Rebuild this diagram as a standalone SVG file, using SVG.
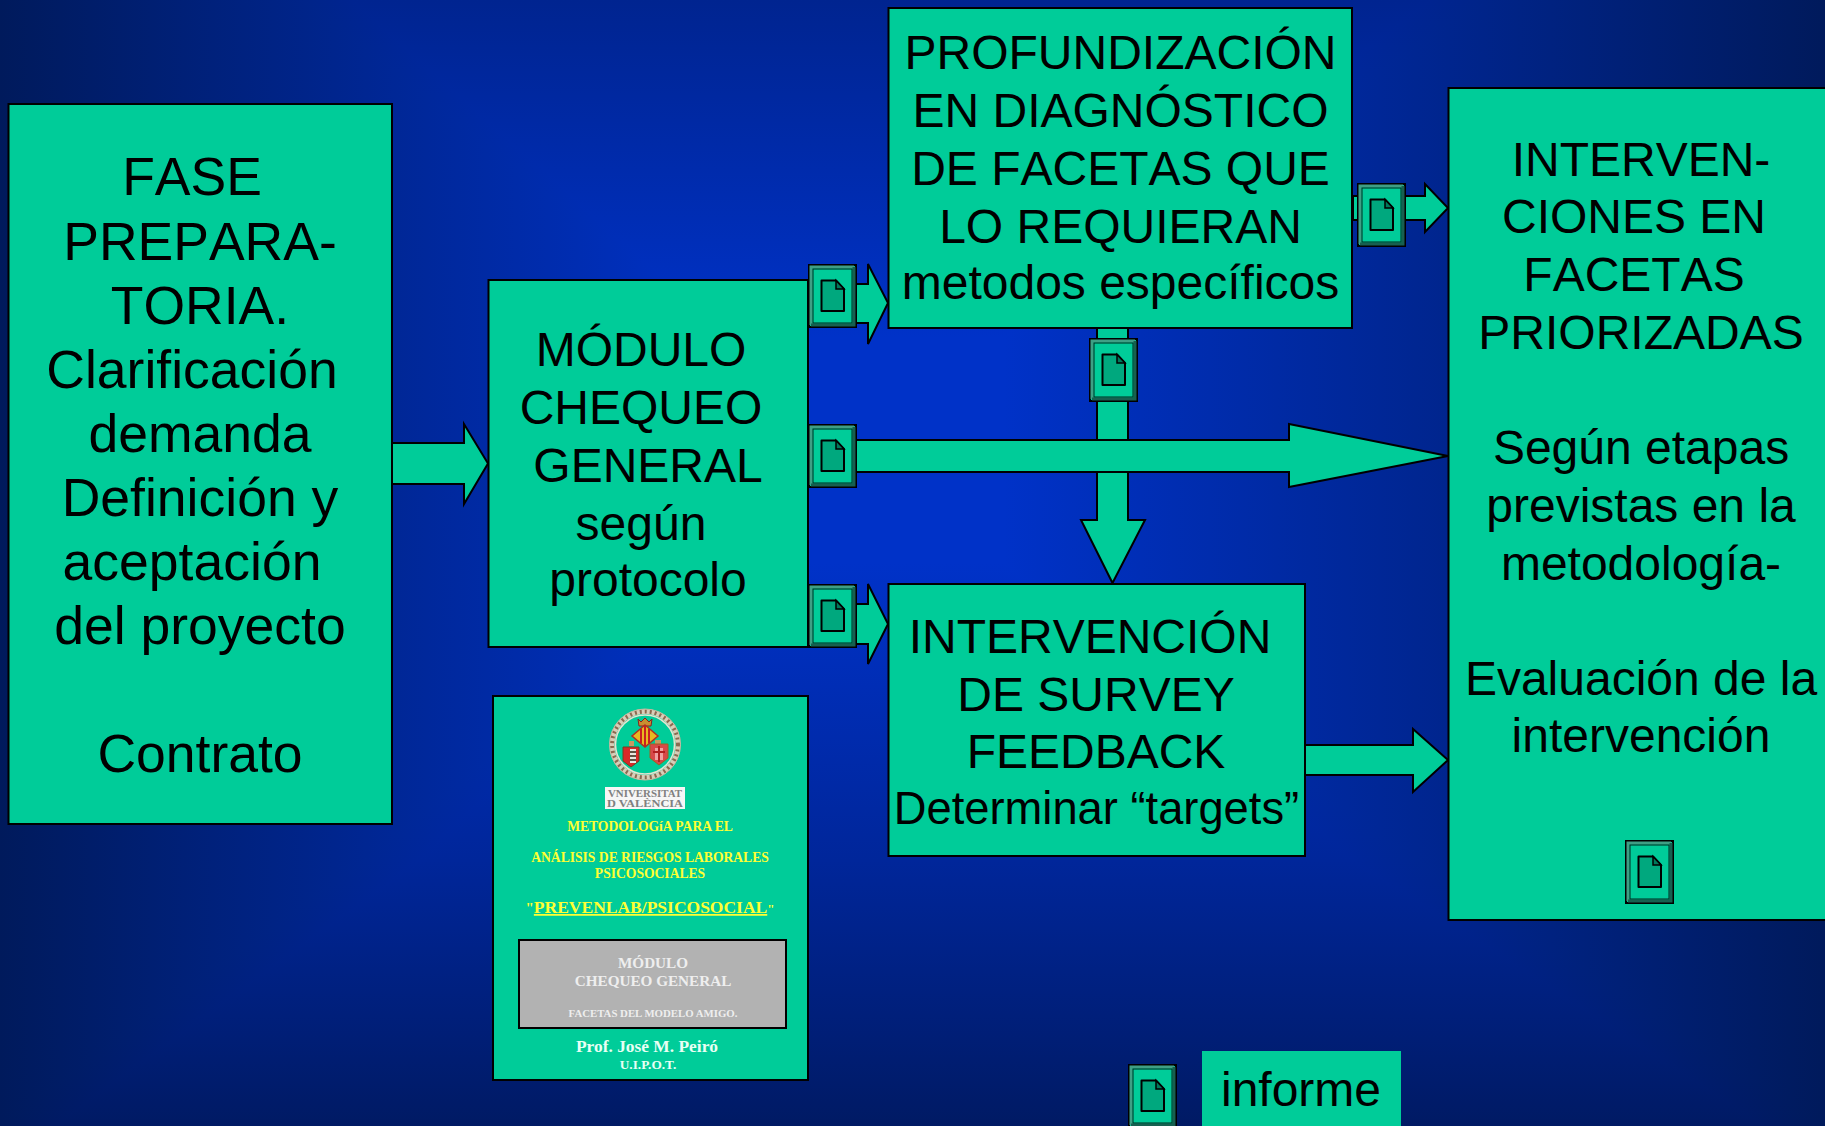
<svg xmlns="http://www.w3.org/2000/svg" xmlns:xlink="http://www.w3.org/1999/xlink" width="1825" height="1126" viewBox="0 0 1825 1126">
<defs>
<linearGradient id="bgx" gradientUnits="userSpaceOnUse" x1="0" y1="0" x2="1825" y2="0">
<stop offset="0" stop-color="#001a5c"/><stop offset="0.4" stop-color="#0032c8"/><stop offset="0.55" stop-color="#0032c8"/><stop offset="1" stop-color="#001a5c"/>
</linearGradient>
<linearGradient id="bgy" gradientUnits="userSpaceOnUse" x1="0" y1="0" x2="0" y2="1126">
<stop offset="0" stop-color="#002490"/><stop offset="0.3" stop-color="#0032c8"/><stop offset="0.5" stop-color="#0032c8"/><stop offset="0.764" stop-color="#00269a"/><stop offset="1" stop-color="#001a64"/>
</linearGradient>
<g id="ic">
<rect x="1" y="1" width="47" height="62" fill="#00cc99" stroke="#000" stroke-width="2"/>
<path d="M3 61V3H46" fill="none" stroke="#3f9f85" stroke-width="3"/>
<path d="M46 3V61H3" fill="none" stroke="#176050" stroke-width="3"/>
<rect x="5" y="5" width="39" height="54" fill="#00cc99" stroke="#00281e" stroke-width="1"/>
<path d="M13.500 16.500H28L36 25V47H13.500Z" fill="#00a87e" stroke="#000" stroke-width="2" stroke-linejoin="round"/>
<path d="M28 16.500V25H36Z" fill="#007a5c" stroke="#000" stroke-width="1.500"/>
</g>
</defs>
<style>
.box{fill:#00cc99;stroke:#000;stroke-width:2}
.ar{fill:#00cc99;stroke:#000;stroke-width:2;stroke-linejoin:miter}
.t{font-family:"Liberation Sans",Arial,sans-serif;font-size:48px;fill:#000;text-anchor:middle;font-kerning:none}
.big{font-size:53.500px}
.s{font-family:"Liberation Serif","Times New Roman",serif;font-weight:bold;text-anchor:middle}
.y{fill:#ffff33;font-size:13.600px}
.w{fill:#eeeeee}
.u{font-family:"Liberation Serif","Times New Roman",serif;font-size:10.500px;fill:#808080;text-anchor:middle;font-weight:bold}
</style>
<g id="background" style="isolation:isolate">
<rect width="1825" height="1126" fill="url(#bgx)"/>
<rect width="1825" height="1126" fill="url(#bgy)" style="mix-blend-mode:darken"/>
</g>
<g id="connectors">
<path class="ar" d="M392 443H464V424L488 463.500L464 504V484H392Z"/>
<path class="ar" d="M808 284H868V264L888 303L868 344V323H808Z"/>
<path class="ar" d="M1097 328H1128V520H1145L1112.500 583L1081 520H1097Z"/>
<path class="ar" d="M808 440H1289V424L1448 456L1289 487V472H808Z"/>
<path class="ar" d="M808 604H868V584L888 624L868 664V644H808Z"/>
<path class="ar" d="M1353 196H1425V184L1448 208L1425 232V220H1353Z"/>
<path class="ar" d="M1305 745H1413V729L1448 760L1413 792V775H1305Z"/>
</g>
<g id="node-fase">
<rect class="box" x="8.500" y="104" width="383.500" height="720"/>
<text class="t big" x="192" y="195">FASE</text>
<text class="t big" x="200" y="260">PREPARA-</text>
<text class="t big" x="200" y="324">TORIA.</text>
<text class="t big" x="192" y="388">Clarificación</text>
<text class="t big" x="200" y="452">demanda</text>
<text class="t big" x="200" y="516">Definición y</text>
<text class="t big" x="192" y="580">aceptación</text>
<text class="t big" x="200" y="644">del proyecto</text>
<text class="t big" x="200" y="772">Contrato</text>
</g>
<g id="node-modulo">
<rect class="box" x="488.500" y="280" width="319.500" height="367"/>
<text class="t" x="641" y="365.500">MÓDULO</text>
<text class="t" x="641" y="423.500">CHEQUEO</text>
<text class="t" x="648" y="481.500">GENERAL</text>
<text class="t" x="641" y="539.500">según</text>
<text class="t" x="648" y="595.500">protocolo</text>
</g>
<g id="node-profundizacion">
<rect class="box" x="888.500" y="8" width="463.500" height="320"/>
<text class="t" x="1120.500" y="69">PROFUNDIZACIÓN</text>
<text class="t" x="1120.500" y="127">EN DIAGNÓSTICO</text>
<text class="t" x="1120.500" y="185">DE FACETAS QUE</text>
<text class="t" x="1120.500" y="243">LO REQUIERAN</text>
<text class="t" x="1120.500" y="299">metodos específicos</text>
</g>
<g id="node-survey">
<rect class="box" x="888.500" y="584" width="416.500" height="272"/>
<text class="t" x="1090" y="652.500">INTERVENCIÓN</text>
<text class="t" x="1096" y="710.500">DE SURVEY</text>
<text class="t" x="1096" y="768">FEEDBACK</text>
<text class="t" x="1096.500" y="824" style="font-size:45.300px">Determinar “targets”</text>
</g>
<g id="node-intervenciones">
<rect class="box" x="1448.500" y="88" width="380" height="832"/>
<text class="t" x="1641" y="176">INTERVEN-</text>
<text class="t" x="1634" y="233">CIONES EN</text>
<text class="t" x="1634" y="291">FACETAS</text>
<text class="t" x="1641" y="349">PRIORIZADAS</text>
<text class="t" x="1641" y="464">Según etapas</text>
<text class="t" x="1641" y="522">previstas en la</text>
<text class="t" x="1641" y="580">metodología-</text>
<text class="t" x="1641" y="695">Evaluación de la</text>
<text class="t" x="1641" y="752">intervención</text>
</g>
<g id="node-portada">
<rect x="493" y="696" width="315" height="384" fill="#00cc99" stroke="#000" stroke-width="2"/>
<circle cx="645" cy="744.500" r="33" fill="none" stroke="#d8cdb8" stroke-width="5"/>
<circle cx="645" cy="744.500" r="33" fill="none" stroke="#8a6a50" stroke-width="4" stroke-dasharray="2 3"/>
<circle cx="645" cy="744.500" r="35.500" fill="none" stroke="#c8b8a0" stroke-width="1"/>
<circle cx="645" cy="744.500" r="29.500" fill="none" stroke="#e8e2d0" stroke-width="1.500"/>
<path d="M638 719L641 722L645 718L649 722L652 719L651 726H639Z" fill="#c89030" stroke="#8a2020" stroke-width="1"/>
<path d="M645 725L658 736L645 747L632 736Z" fill="#e8b820" stroke="#b03020" stroke-width="1.500"/>
<path d="M641 729V743M645 726V746M649 729V743" stroke="#c82020" stroke-width="2"/>
<path d="M634 741H629V746H634ZM661 740H655V745H661Z" fill="#c89860"/>
<path d="M623 747H639V761L631 767L623 761Z" fill="#d82828" stroke="#704020"/>
<path d="M630 749H636V763H630Z" fill="#e8e8e0"/>
<path d="M630 752H636M630 756H636M630 760H636" stroke="#302010" stroke-width="1.500"/>
<path d="M650 744H668V758L659 765L650 758Z" fill="#d84848" stroke="#a06020"/>
<path d="M655 748H663V760H655Z" fill="#f0a0a0"/>
<path d="M659 746V762M653 752H665" stroke="#b02020" stroke-width="2"/>
<rect x="605" y="787" width="80" height="22" fill="#f6f6f6"/>
<text class="u" x="645" y="797" textLength="74" lengthAdjust="spacingAndGlyphs">VNIVERSITAT</text>
<text class="u" x="645" y="807" textLength="76" lengthAdjust="spacingAndGlyphs">D VALÈNCIA</text>
<text class="s y" x="650" y="831">METODOLOGíA PARA EL</text>
<text class="s y" x="650" y="862">ANÁLISIS DE RIESGOS LABORALES</text>
<text class="s y" x="650" y="878">PSICOSOCIALES</text>
<text class="s" x="650" y="913" font-size="17.500" fill="#ffff33"><tspan font-size="15">"</tspan><tspan text-decoration="underline">PREVENLAB/PSICOSOCIAL</tspan><tspan font-size="13">"</tspan></text>
<rect x="519" y="940" width="267" height="88" fill="#b2b2b2" stroke="#000" stroke-width="2"/>
<text class="s w" x="653" y="968" font-size="15.200">MÓDULO</text>
<text class="s w" x="653" y="986" font-size="15.200">CHEQUEO GENERAL</text>
<text class="s w" x="653" y="1017" font-size="10.800">FACETAS DEL MODELO AMIGO.</text>
<text class="s" x="647" y="1052" font-size="17.400" fill="#e8fff4">Prof. José M. Peiró</text>
<text class="s" x="648" y="1069" font-size="13.300" fill="#e8fff4">U.I.P.O.T.</text>
</g>
<g id="icon-1"><use xlink:href="#ic" href="#ic" x="808" y="264"/></g>
<g id="icon-2"><use xlink:href="#ic" href="#ic" x="808" y="424"/></g>
<g id="icon-3"><use xlink:href="#ic" href="#ic" x="808" y="584"/></g>
<g id="icon-4"><use xlink:href="#ic" href="#ic" x="1089" y="338"/></g>
<g id="icon-5"><use xlink:href="#ic" href="#ic" x="1357" y="183"/></g>
<g id="icon-6"><use xlink:href="#ic" href="#ic" x="1625" y="840"/></g>
<g id="legend">
<use xlink:href="#ic" href="#ic" x="1128" y="1064"/>
<rect x="1202" y="1051" width="199" height="80" fill="#00cc99"/>
<text class="t" x="1301" y="1106">informe</text>
</g>
</svg>
